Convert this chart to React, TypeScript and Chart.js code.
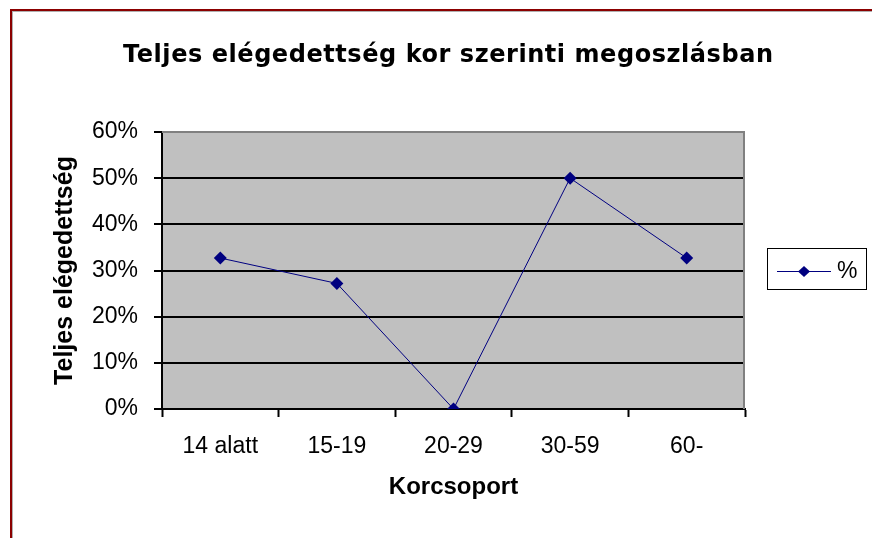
import React, { useEffect, useRef } from "react";
import { Chart, registerables } from "chart.js";

Chart.register(...registerables);

const chartTitle = "Teljes elégedettség kor szerinti megoszlásban";
const categories = ["14 alatt", "15-19", "20-29", "30-59", "60-"];
const seriesLabel = "%";
const seriesValues = [32.7, 27.2, 0, 50, 32.7];
const yTickValues = [0, 10, 20, 30, 40, 50, 60];
const yAxisTitle = "Teljes elégedettség";
const xAxisTitle = "Korcsoport";

const NAVY = "#000080";
const SANS = "'Liberation Sans', Arial, sans-serif";

const framePlugin = {
  id: "framePlugin",
  beforeDraw(chart: any) {
    const { ctx, chartArea } = chart;
    ctx.save();
    ctx.fillStyle = "#ffffff";
    ctx.fillRect(0, 0, chart.width, chart.height);
    ctx.fillStyle = "#C0C0C0";
    ctx.fillRect(chartArea.left, chartArea.top, chartArea.right - chartArea.left, chartArea.bottom - chartArea.top);
    ctx.fillStyle = "#8B0000";
    ctx.fillRect(10, 9, chart.width - 10, 2);
    ctx.fillRect(10, 9, 2, chart.height - 9);
    ctx.fillStyle = "#b0b0b0";
    ctx.fillRect(12, 11, chart.width - 12, 1);
    ctx.fillRect(12, 11, 1, chart.height - 11);
    ctx.restore();
  },
  afterDatasetsDraw(chart: any) {
    const { ctx, chartArea } = chart;
    ctx.save();
    ctx.strokeStyle = "#808080";
    ctx.lineWidth = 2;
    ctx.beginPath();
    ctx.moveTo(chartArea.left, chartArea.top);
    ctx.lineTo(chartArea.right - 1, chartArea.top);
    ctx.lineTo(chartArea.right - 1, chartArea.bottom);
    ctx.stroke();

    // title
    ctx.fillStyle = "#000000";
    ctx.font = "bold 24px 'DejaVu Sans', Verdana, sans-serif";
    ctx.textBaseline = "alphabetic";
    ctx.textAlign = "left";
    const w0 = ctx.measureText(chartTitle).width;
    const targetW = 650;
    const n = Array.from(chartTitle).length;
    const sp = Math.max(0, (targetW - w0) / (n - 1));
    (ctx as any).letterSpacing = sp + "px";
    ctx.fillText(chartTitle, 448 - targetW / 2, 62);
    (ctx as any).letterSpacing = "0px";

    // legend
    const ds = chart.data.datasets[0];
    const bx = 767.5, by = 248.5, bw = 99, bh = 41;
    ctx.strokeStyle = "#000000";
    ctx.lineWidth = 1;
    ctx.strokeRect(bx, by, bw, bh);
    const cy = 271.5;
    ctx.strokeStyle = ds.borderColor;
    ctx.beginPath();
    ctx.moveTo(777, cy);
    ctx.lineTo(831, cy);
    ctx.stroke();
    ctx.fillStyle = ds.pointBackgroundColor;
    ctx.beginPath();
    ctx.moveTo(804, cy - 5.5);
    ctx.lineTo(810, cy);
    ctx.lineTo(804, cy + 5.5);
    ctx.lineTo(798, cy);
    ctx.closePath();
    ctx.fill();
    ctx.fillStyle = "#000000";
    ctx.font = "23px " + SANS;
    ctx.textBaseline = "alphabetic";
    ctx.textAlign = "left";
    ctx.fillText(ds.label, 837, 278);
    ctx.restore();
  },
};

export default function App() {
  const ref = useRef<HTMLCanvasElement | null>(null);
  useEffect(() => {
    document.body.style.margin = "0";
    const canvas = ref.current!;
    const chart = new Chart(canvas, {
      type: "line",
      data: {
        labels: categories,
        datasets: [
          {
            label: seriesLabel,
            data: seriesValues,
            borderColor: NAVY,
            backgroundColor: NAVY,
            pointBackgroundColor: NAVY,
            pointBorderColor: NAVY,
            borderWidth: 1,
            pointStyle: "rectRot",
            pointRadius: 6.5,
            pointBorderWidth: 0,
            tension: 0,
          },
        ],
      },
      options: {
        responsive: false,
        animation: false,
        events: [],
        layout: { padding: { left: 50, right: 127, top: 132, bottom: 36 } },
        plugins: {
          legend: { display: false },
          tooltip: { enabled: false },
          title: { display: false },
        },
        scales: {
          x: {
            offset: true,
            grid: {
              offset: true,
              drawOnChartArea: false,
              drawTicks: true,
              tickLength: 8,
              tickColor: "#000000",
              tickWidth: 2,
            },
            border: { display: true, color: "#000000", width: 2 },
            ticks: {
              color: "#000000",
              padding: 16,
              font: { family: SANS, size: 23 },
              maxRotation: 0,
            },
            title: {
              display: true,
              text: xAxisTitle,
              color: "#000000",
              padding: 0,
              font: { family: SANS, size: 24, weight: "bold", lineHeight: 1.2 },
            },
            afterFit(scale: any) {
              scale.height = 93;
            },
          },
          y: {
            min: 0,
            max: 60,
            afterBuildTicks(scale: any) {
              scale.ticks = yTickValues.map((v) => ({ value: v }));
            },
            grid: {
              color: "#000000",
              lineWidth: 2,
              drawTicks: true,
              tickLength: 8,
              tickColor: "#000000",
              tickWidth: 2,
            },
            border: { display: true, color: "#000000", width: 2 },
            ticks: {
              color: "#000000",
              padding: 16,
              font: { family: SANS, size: 23 },
              callback: (v: any) => v + "%",
            },
            title: {
              display: true,
              text: yAxisTitle,
              color: "#000000",
              padding: 0,
              font: { family: SANS, size: 25, weight: "bold", lineHeight: 1.2 },
            },
            afterFit(scale: any) {
              scale.width = 112;
            },
          },
        },
      },
      plugins: [framePlugin],
    });
    return () => chart.destroy();
  }, []);
  return (
    <div style={{ position: "absolute", left: 0, top: 0, width: 872, height: 538 }}>
      <canvas ref={ref} width={872} height={538} style={{ width: 872, height: 538 }} />
    </div>
  );
}
